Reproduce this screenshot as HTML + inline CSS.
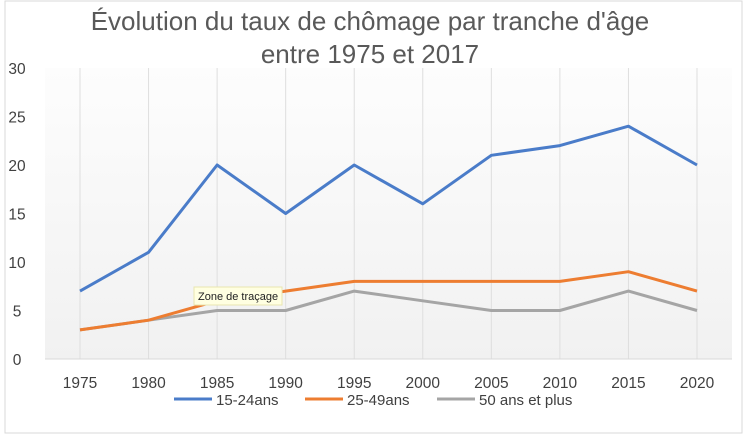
<!DOCTYPE html>
<html><head><meta charset="utf-8"><style>
body{margin:0;width:754px;height:437px;background:#fff;overflow:hidden;font-family:"Liberation Sans",sans-serif}
</style></head><body>
<svg width="754" height="437">
<defs><linearGradient id="bg" x1="0" y1="0" x2="0" y2="1"><stop offset="0" stop-color="#fdfdfd"/><stop offset="1" stop-color="#f1f1f1"/></linearGradient></defs>
<rect x="5" y="1" width="737" height="432" fill="#fff" stroke="#d9d9d9"/>
<rect x="45" y="68" width="687" height="291" fill="url(#bg)"/>
<text x="370" y="30" text-anchor="middle" font-size="26" fill="#595959">Évolution du taux de chômage par tranche d'âge</text>
<text x="370" y="63" text-anchor="middle" font-size="26" fill="#595959">entre 1975 et 2017</text>
<g id="grid"></g><g id="ylab"></g><g id="xlab"></g><g id="lines"></g>
<line x1="45" y1="359" x2="732" y2="359" stroke="#d9d9d9"/>
<g font-size="15" fill="#404040">
<line x1="174" y1="399" x2="212" y2="399" stroke="#4a7cc9" stroke-width="3"/><text x="216" y="405">15-24ans</text>
<line x1="305" y1="399" x2="343" y2="399" stroke="#ed7d31" stroke-width="3"/><text x="347" y="405">25-49ans</text>
<line x1="437" y1="399" x2="475" y2="399" stroke="#a5a5a5" stroke-width="3"/><text x="479" y="405">50 ans et plus</text>
</g>
<g>
<rect x="194" y="287" width="88" height="18" fill="#ffffe1" stroke="#e8e6b0"/>
<text x="198" y="300" font-size="11" fill="#222">Zone de traçage</text>
</g>
</svg>
<script>
const categories=["1975","1980","1985","1990","1995","2000","2005","2010","2015","2020"];
const s1524=[7,11,20,15,20,16,21,22,24,20];
const s2549=[3,4,6,7,8,8,8,8,9,7];
const s50=[3,4,5,5,7,6,5,5,7,5];
const yTicks=[0,5,10,15,20,25,30];
const NS="http://www.w3.org/2000/svg";
const x=i=>80+i*(697-80)/(categories.length-1);
const y=v=>359-v*(359-68)/30;
function mk(t,a,p){const e=document.createElementNS(NS,t);for(const k in a)e.setAttribute(k,a[k]);document.getElementById(p).appendChild(e);return e;}
categories.forEach((c,i)=>{
 const g=mk('line',{x1:x(i),x2:x(i),y1:68,y2:359,stroke:'#dedede'},'grid');
 
 
 const t=mk('text',{x:x(i),y:388,'text-anchor':'middle','font-size':15.5,fill:'#404040'},'xlab');t.textContent=c;
 
 
});
yTicks.forEach(v=>{
 const t=mk('text',{x:17,y:y(v)+6,'text-anchor':'middle','font-size':15.5,fill:'#404040'},'ylab');t.textContent=v;
 
 
});
[[s50,'#a5a5a5','series-50-plus'],[s2549,'#ed7d31','series-25-49'],[s1524,'#4a7cc9','series-15-24']].forEach(([d,c,n])=>{
 const p=mk('polyline',{points:d.map((v,i)=>x(i)+','+y(v)).join(' '),fill:'none',stroke:c,'stroke-width':3,'stroke-linejoin':'round'},'lines');
 
 
});
</script>
</body></html>
